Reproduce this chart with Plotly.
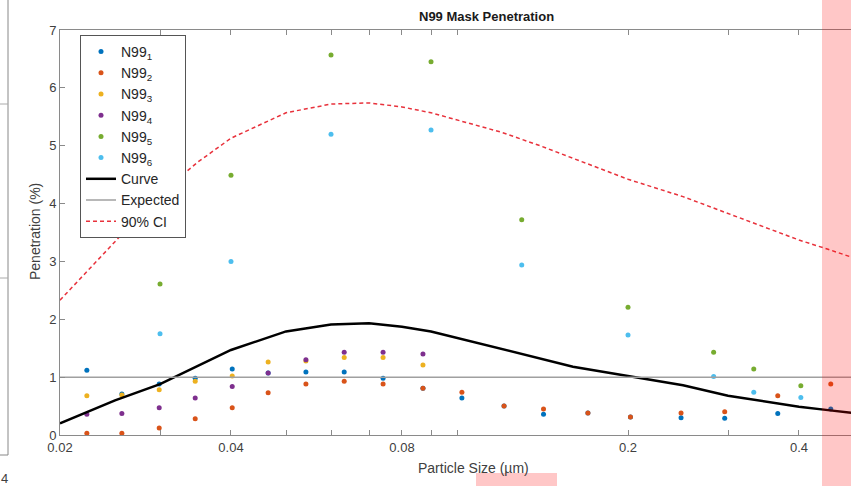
import plotly.graph_objects as go

# ---------------- data ----------------
size_a = [0.0223, 0.0257, 0.0299, 0.0346, 0.0402, 0.0465, 0.0542, 0.0633, 0.0741, 0.0871,
          0.102, 0.121, 0.142, 0.170, 0.202, 0.248, 0.296, 0.367, 0.455]
n99_1 = [1.12, 0.71, 0.88, 0.98, 1.14, 1.07, 1.09, 1.09, 0.98, 0.81,
         0.64, 0.50, 0.36, 0.38, 0.31, 0.30, 0.29, 0.37, 0.45]
n99_2 = [0.03, 0.03, 0.12, 0.28, 0.47, 0.73, 0.88, 0.93, 0.88, 0.81,
         0.74, 0.50, 0.45, 0.38, 0.31, 0.38, 0.40, 0.68, 0.88]
size_b = size_a[:10]
n99_3 = [0.68, 0.69, 0.78, 0.93, 1.02, 1.26, 1.28, 1.34, 1.34, 1.21]
n99_4 = [0.36, 0.37, 0.47, 0.64, 0.84, 1.07, 1.30, 1.43, 1.43, 1.40]
size_c = [0.03, 0.04, 0.06, 0.09, 0.13, 0.2, 0.283, 0.333, 0.403]
n99_5 = [2.61, 4.49, 6.57, 6.45, 3.72, 2.21, 1.43, 1.14, 0.85]
n99_6 = [1.75, 3.00, 5.20, 5.27, 2.94, 1.73, 1.01, 0.74, 0.65]

curve_x = [0.02, 0.025, 0.03, 0.035, 0.04, 0.05, 0.06, 0.07, 0.08, 0.09, 0.1,
           0.12, 0.14, 0.16, 0.2, 0.25, 0.3, 0.35, 0.4, 0.45, 0.5]
curve_y = [0.20, 0.60, 0.88, 1.20, 1.47, 1.79, 1.91, 1.93, 1.87, 1.79, 1.68,
           1.49, 1.33, 1.18, 1.02, 0.86, 0.68, 0.58, 0.49, 0.43, 0.38]
ci_y = [2.33, 3.35, 4.17, 4.72, 5.13, 5.57, 5.72, 5.74, 5.67, 5.57, 5.45,
        5.23, 5.00, 4.78, 4.42, 4.12, 3.83, 3.59, 3.37, 3.21, 3.06]
expected_x = [0.02, 0.5]
expected_y = [1, 1]

x_tickvals = [0.02, 0.03, 0.04, 0.05, 0.06, 0.07, 0.08, 0.09, 0.1, 0.2, 0.3, 0.4]
x_ticktext = ["0.02", " ", "0.04", " ", " ", " ", "0.08", " ", " ", "0.2", " ", "0.4"]
y_tickvals = [0, 1, 2, 3, 4, 5, 6, 7]

# ---------------- figure ----------------
W, H = 851, 486
L, R, T, B = 60, 0, 30, 51
pw, ph = W - L - R, H - T - B


def px(x):
    return (x - L) / pw


def py(y):
    return (H - B - y) / ph


colors = ["#0072BD", "#D95319", "#EDB120", "#7E2F8E", "#77AC30", "#4DBEEE"]
series = [(size_a, n99_1), (size_a, n99_2), (size_b, n99_3),
          (size_b, n99_4), (size_c, n99_5), (size_c, n99_6)]

fig = go.Figure()
for i, (xs, ys) in enumerate(series):
    fig.add_trace(go.Scatter(x=xs, y=ys, mode="markers", name=f"N99<sub>{i+1}</sub>",
                             marker=dict(color=colors[i], size=5)))
fig.add_trace(go.Scatter(x=curve_x, y=curve_y, mode="lines", name="Curve",
                         line=dict(color="black", width=2.5)))
fig.add_trace(go.Scatter(x=expected_x, y=expected_y, mode="lines", name="Expected",
                         line=dict(color="#a0a0a0", width=1.5)))
fig.add_trace(go.Scatter(x=curve_x, y=ci_y, mode="lines", name="90% CI",
                         line=dict(color="#e8323c", width=1.5, dash="4px,3px")))

axis_color = "#8a8a8a"
font_family = "Liberation Sans, Arial, Helvetica, sans-serif"

fig.update_layout(
    width=W, height=H,
    margin=dict(l=L, r=R, t=T, b=B),
    paper_bgcolor="white", plot_bgcolor="white",
    font=dict(family=font_family, size=13, color="#404040"),
    showlegend=True,
    legend=dict(x=px(80), y=py(35), xanchor="left", yanchor="top",
                bgcolor="white", bordercolor="#555555", borderwidth=1,
                font=dict(size=14, color="#262626"), tracegroupgap=0,
                itemwidth=30),
    xaxis=dict(type="log", range=[-1.69897, -1.69897 + pw / 568.0],
               tickvals=x_tickvals, ticktext=x_ticktext,
               ticks="inside", ticklen=5, tickcolor=axis_color,
               showline=True, linecolor=axis_color, linewidth=1,
               mirror="ticks", showgrid=False, zeroline=False,
               tickfont=dict(size=13, color="#404040")),
    yaxis=dict(range=[0, 7], tickvals=y_tickvals,
               ticks="inside", ticklen=5, tickcolor=axis_color,
               showline=True, linecolor=axis_color, linewidth=1,
               mirror=False, showgrid=False, zeroline=False,
               tickfont=dict(size=13, color="#404040")),
    annotations=[
        dict(text="<b>N99 Mask Penetration</b>", x=px(486), y=py(17),
             xref="paper", yref="paper", showarrow=False,
             xanchor="center", yanchor="middle",
             font=dict(size=13, color="#1a1a1a")),
        dict(text="Particle Size (µm)", x=px(473), y=py(468),
             xref="paper", yref="paper", showarrow=False,
             xanchor="center", yanchor="middle",
             font=dict(size=14, color="#404040")),
        dict(text="Penetration (%)", x=px(35), y=py(232), textangle=-90,
             xref="paper", yref="paper", showarrow=False,
             xanchor="center", yanchor="middle",
             font=dict(size=14, color="#404040")),
        dict(text="4", x=px(4), y=py(478), xref="paper", yref="paper",
             showarrow=False, xanchor="center", yanchor="middle",
             font=dict(size=13, color="#404040")),
    ],
    shapes=[
        # fragment of neighbouring chart on the left
        dict(type="line", xref="paper", yref="paper", x0=px(8), x1=px(8),
             y0=py(0), y1=py(455), line=dict(color="#888888", width=1)),
        dict(type="line", xref="paper", yref="paper", x0=px(0), x1=px(8),
             y0=py(104), y1=py(104), line=dict(color="#aaaaaa", width=1)),
        dict(type="line", xref="paper", yref="paper", x0=px(0), x1=px(8),
             y0=py(278), y1=py(278), line=dict(color="#aaaaaa", width=1)),
        dict(type="line", xref="paper", yref="paper", x0=px(0), x1=px(8),
             y0=py(455), y1=py(455), line=dict(color="#888888", width=1)),
        # pink overlays
        dict(type="rect", xref="paper", yref="paper", x0=px(822), x1=px(851),
             y0=py(0), y1=py(486), fillcolor="rgba(255,0,0,0.22)",
             line=dict(width=0), layer="above"),
        dict(type="rect", xref="paper", yref="paper", x0=px(476), x1=px(557),
             y0=py(473), y1=py(486), fillcolor="rgba(255,0,0,0.22)",
             line=dict(width=0), layer="above"),
    ],
)

fig.write_html("out.html", config={"displayModeBar": False})

# remove the browser's default page margin so the figure sits at (0, 0)
with open("out.html", "r", encoding="utf-8") as f:
    html = f.read()
html = html.replace("<head>", "<head><style>html,body{margin:0;padding:0;overflow:hidden;}</style>", 1)
with open("out.html", "w", encoding="utf-8") as f:
    f.write(html)
